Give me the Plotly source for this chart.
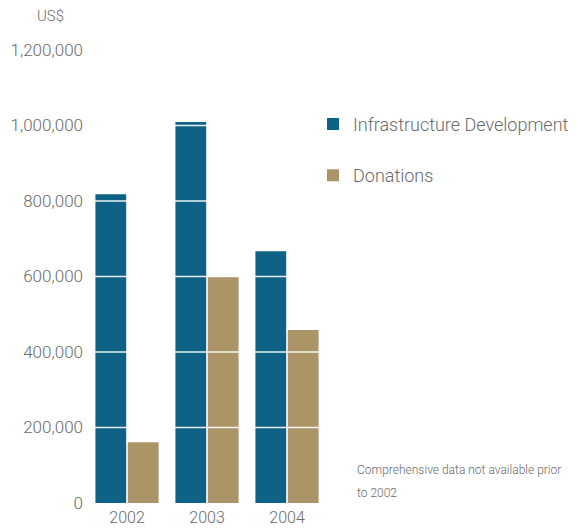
import plotly.graph_objects as go

years = ["2002", "2003", "2004"]
infrastructure = [818000, 1009000, 667000]
donations = [161000, 599000, 458000]
y_ticks = [0, 200000, 400000, 600000, 800000, 1000000, 1200000]
y_tick_labels = ["0", "200,000", "400,000", "600,000", "800,000", "1,000,000", "1,200,000"]
note_lines = ["Comprehensive data not available prior", "to 2002"]

FONT = "Roboto, sans-serif"
GREY = "#6a6a6a"

fig = go.Figure()
fig.add_trace(go.Bar(x=years, y=infrastructure, name="Infrastructure Development",
                     marker=dict(color="#0e6286", line=dict(width=0)), legendgroup="a"))
fig.add_trace(go.Bar(x=years, y=donations, name="Donations",
                     marker=dict(color="#ac9468", line=dict(width=0)), legendgroup="b"))

for v in y_ticks[1:]:
    fig.add_shape(type="line", xref="paper", x0=0, x1=1, yref="y", y0=v, y1=v,
                  line=dict(color="rgba(255,255,255,0.9)", width=1.5), layer="above")

fig.add_annotation(text="US$", xref="paper", yref="paper", x=-0.217, y=1.074,
                   xanchor="left", yanchor="middle", showarrow=False,
                   font=dict(family=FONT, size=15, color=GREY, weight=300))
for line_text, ypos in zip(note_lines, [0.0728, 0.0221]):
    fig.add_annotation(text=line_text, xref="paper", yref="paper", x=1.115, y=ypos,
                       xanchor="left", yanchor="middle", align="left", showarrow=False,
                       font=dict(family=FONT, size=12, color=GREY, weight=300))

fig.update_layout(
    width=578, height=529,
    margin=dict(l=87, r=251, t=50, b=26, autoexpand=False),
    paper_bgcolor="white", plot_bgcolor="white",
    barmode="group", bargap=0.19, bargroupgap=0.05,
    font=dict(family=FONT, color=GREY),
    showlegend=True,
    legend=dict(x=0.9417, y=0.877, xanchor="left", yanchor="top",
                font=dict(family=FONT, size=18, color=GREY, weight=300),
                tracegroupgap=25, bgcolor="rgba(0,0,0,0)"),
    xaxis=dict(showgrid=False, showline=False, ticks="", automargin=False,
               ticklabelstandoff=3,
               tickfont=dict(size=16, family=FONT, color=GREY, weight=300)),
    yaxis=dict(range=[0, 1200000], tickvals=y_ticks, ticktext=y_tick_labels,
               showgrid=False, zeroline=False, showline=False, ticks="", automargin=False,
               ticklabelstandoff=3,
               tickfont=dict(size=17, family=FONT, color=GREY, weight=300)),
)

fig.write_html("out.html")
